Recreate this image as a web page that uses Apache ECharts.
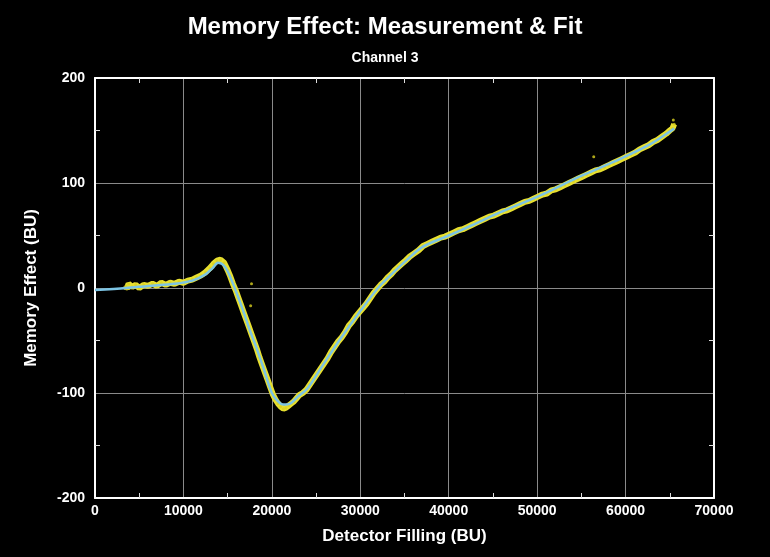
<!DOCTYPE html>
<html>
<head>
<meta charset="utf-8">
<script src="https://cdn.jsdelivr.net/npm/echarts@6/dist/echarts.min.js"></script>
<style>
    html, body { margin: 0; padding: 0; background: #000; }
    #chart { width: 770px; height: 557px; }
</style>
</head>
<body>
<div id="chart"></div>
<script type="text/javascript">
    // 测量点 (detector filling, memory effect)
    var measX = [3500, 3600, 3800, 4200, 4600, 5000, 5500, 6000, 6500, 7000, 7500, 8000, 8500, 9000, 9500, 10000,
        10500, 11000, 11500, 12000, 12500, 13000, 13400, 13800, 14200, 14600, 15000, 15300, 15600, 15900, 16200,
        16500, 16800, 17100, 17400, 17700, 18000, 18300, 18600, 18900, 19200, 19500, 19800, 20100, 20400, 20700,
        21000, 21300, 21600, 21900, 22200, 22500, 22800, 23100, 23500, 23900, 24300, 24700, 25100, 25500, 25900,
        26300, 26700, 27100, 27500, 27900, 28300, 28700, 29100, 29500, 29900, 30300, 30700, 31100, 31500, 31900,
        32300, 32700, 33100, 33500, 33900, 34300, 34700, 35100, 35600, 36100, 36600, 37100, 37600, 38100, 38600,
        39100, 39600, 40100, 40600, 41100, 41600, 42100, 42600, 43100, 43600, 44100, 44600, 45100, 45600, 46100,
        46600, 47100, 47600, 48100, 48600, 49100, 49600, 50100, 50600, 51100, 51600, 52100, 52600, 53100, 53600,
        54100, 54600, 55100, 55600, 56100, 56600, 57100, 57600, 58100, 58600, 59100, 59600, 60100, 60600, 61100,
        61600, 62100, 62600, 63100, 63600, 64100, 64600, 65000, 65300, 65500];
    var measY = [2, -1, 4, 1, 3, 0, 3, 2, 4, 2, 5, 3, 5, 4, 6, 5,
        7, 8, 10, 12, 15, 19, 23, 26, 27, 24, 17, 11, 4, -2, -9,
        -16, -23, -30, -37, -44, -51, -58, -66, -73, -80, -87, -94, -101, -106, -110,
        -113, -115, -114, -112, -110, -108, -105, -102, -100, -97, -92, -87, -82, -77, -72,
        -67, -61, -56, -51, -47, -42, -36, -32, -27, -23, -19, -15, -10, -5, -1,
        3, 6, 10, 13, 17, 20, 23, 26, 30, 33, 36, 40, 42, 44, 46,
        48, 49, 51, 53, 55, 56, 58, 60, 62, 64, 66, 68, 69, 71, 73,
        74, 76, 78, 80, 82, 83, 85, 87, 89, 90, 93, 94, 96, 98, 100,
        102, 104, 106, 108, 110, 112, 113, 115, 117, 119, 121, 123, 125, 127, 129,
        132, 134, 136, 139, 141, 144, 147, 150, 152, 156];
    // 离群点
    var outX = [17600, 17700, 56400, 65400];
    var outY = [-17, 4, 125, 160];
    // 拟合曲线
    var fitX = [0, 3500, 6000, 9000, 11000, 12500, 13300, 13900, 14500, 15000, 15800, 16600, 17500, 18300, 19000,
        20000, 20700, 21300, 22100, 23000, 24000, 25800, 27700, 30000, 32000, 33400, 35300, 37000, 40000,
        42700, 45800, 50300, 54800, 59400, 62800, 65500];
    var fitY = [-2, 0, 2, 4, 7, 13, 19, 24, 22, 16, 0, -18, -40, -58, -75,
        -100, -108, -111, -110, -103, -96, -73, -49, -22, 0, 12, 27, 39, 50,
        60, 72, 88, 106, 123, 137, 152];

    function pairs(xs, ys) {
        var out = [];
        for (var i = 0; i < xs.length; i++) {
            out.push([xs[i], ys[i]]);
        }
        return out;
    }

    var font = '"Liberation Sans", Arial, sans-serif';
    var plain = function (v) { return String(v); };
    var myChart = echarts.init(document.getElementById("chart"));
    var option = {
        backgroundColor: '#000',
        animation: false,
        title: {
            text: 'Memory Effect: Measurement & Fit',
            subtext: 'Channel 3',
            left: 'center',
            top: 10,
            itemGap: 12,
            textStyle: {color: '#fff', fontFamily: font, fontWeight: 'bold', fontSize: 24},
            subtextStyle: {color: '#fff', fontFamily: font, fontWeight: 'bold', fontSize: 14}
        },
        grid: {left: 95, right: 56, top: 78, bottom: 59},
        xAxis: [
            {
                type: 'value', min: 0, max: 70000, interval: 10000,
                name: 'Detector Filling (BU)', nameLocation: 'middle', nameGap: 30,
                nameTextStyle: {color: '#fff', fontFamily: font, fontWeight: 'bold', fontSize: 17},
                axisLine: {show: true, onZero: false, lineStyle: {color: '#fff', width: 2}},
                axisTick: {show: false, inside: true},
                minorTick: {show: true, splitNumber: 2, length: 5, lineStyle: {color: '#ddd', width: 1}},
                axisLabel: {color: '#fff', fontFamily: font, fontWeight: 'bold', fontSize: 14, margin: 6, formatter: plain},
                splitLine: {show: true, lineStyle: {color: '#8a8a8a', width: 1}}
            },
            {
                type: 'value', min: 0, max: 70000, interval: 10000, position: 'top',
                axisLine: {show: true, onZero: false, lineStyle: {color: '#fff', width: 2}},
                axisTick: {show: false, inside: true},
                minorTick: {show: true, splitNumber: 2, length: 5, lineStyle: {color: '#ddd', width: 1}},
                axisLabel: {show: false},
                splitLine: {show: false}
            }
        ],
        yAxis: [
            {
                type: 'value', min: -200, max: 200, interval: 100,
                name: 'Memory Effect (BU)', nameLocation: 'middle', nameGap: 55,
                nameTextStyle: {color: '#fff', fontFamily: font, fontWeight: 'bold', fontSize: 17},
                axisLine: {show: true, onZero: false, lineStyle: {color: '#fff', width: 2}},
                axisTick: {show: false, inside: true},
                minorTick: {show: true, splitNumber: 2, length: 5, lineStyle: {color: '#ddd', width: 1}},
                axisLabel: {color: '#fff', fontFamily: font, fontWeight: 'bold', fontSize: 14, margin: 10, formatter: plain},
                splitLine: {show: true, lineStyle: {color: '#8a8a8a', width: 1}}
            },
            {
                type: 'value', min: -200, max: 200, interval: 100, position: 'right',
                axisLine: {show: true, onZero: false, lineStyle: {color: '#fff', width: 2}},
                axisTick: {show: false, inside: true},
                minorTick: {show: true, splitNumber: 2, length: 5, lineStyle: {color: '#ddd', width: 1}},
                axisLabel: {show: false},
                splitLine: {show: false}
            }
        ],
        series: [
            {
                name: 'Measurement band',
                type: 'line',
                data: pairs(measX, measY),
                showSymbol: false,
                lineStyle: {color: '#e8e030', width: 6},
                z: 2
            },
            {
                name: 'Measurement',
                type: 'scatter',
                data: pairs(measX, measY).concat(pairs(outX, outY)),
                symbolSize: 3,
                itemStyle: {color: '#d8d020'},
                z: 3
            },
            {
                name: 'Fit',
                type: 'line',
                data: pairs(fitX, fitY),
                smooth: 0.3,
                showSymbol: false,
                lineStyle: {color: '#7cc4e4', width: 2.5},
                z: 4
            }
        ]
    };
    myChart.setOption(option, true);
</script>
</body>
</html>
